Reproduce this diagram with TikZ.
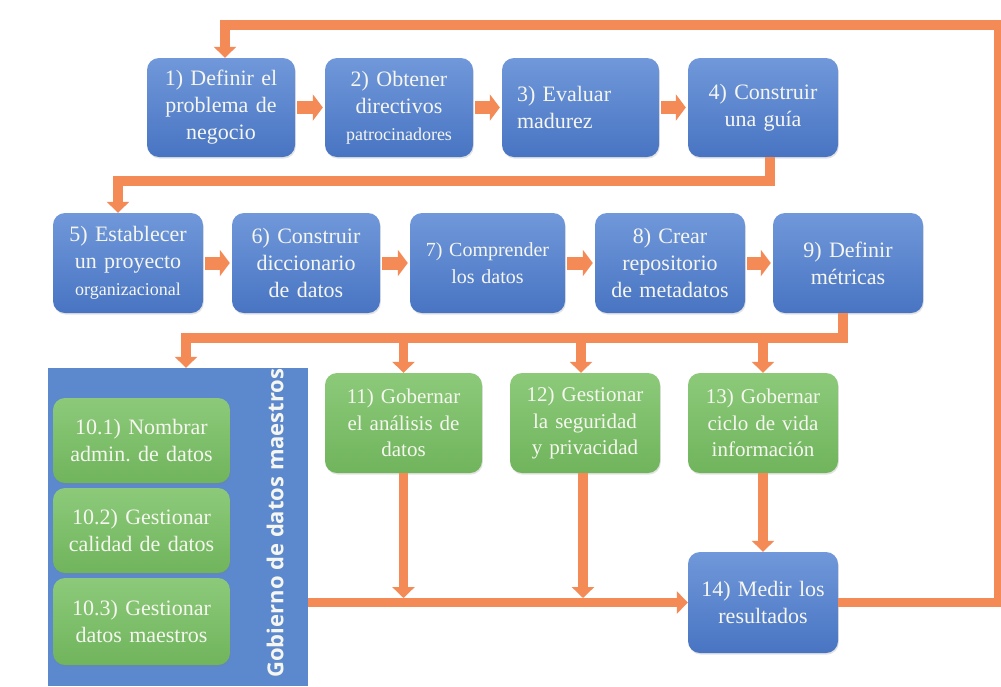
\documentclass[tikz,border=0pt]{standalone}
\usepackage{fontspec}
\setmainfont{Liberation Serif}
\newfontfamily\titlesans{Open Sans}
\usetikzlibrary{arrows.meta,shadows,calc}
\frenchspacing

\definecolor{flowor}{RGB}{244,138,86}
\definecolor{blueT}{RGB}{112,152,218}
\definecolor{blueB}{RGB}{72,116,194}
\definecolor{greenT}{RGB}{140,202,122}
\definecolor{greenB}{RGB}{112,180,92}
\definecolor{panelblue}{RGB}{92,136,205}
\definecolor{boxtext}{RGB}{246,246,240}

\tikzset{
  procbox/.style={rounded corners=12pt, inner sep=0pt, align=center,
    text=boxtext, font=\fontsize{22}{27}\selectfont,
    drop shadow={opacity=0.22, shadow xshift=0.8pt, shadow yshift=-1.6pt}},
  bluebox/.style={procbox, top color=blueT, bottom color=blueB},
  greenbox/.style={procbox, top color=greenT, bottom color=greenB},
  flow/.style={draw=flowor, line width=9.5pt, line join=miter,
    -{Triangle[length=11pt,width=22pt]}},
  blockarrow/.style={draw=flowor, line width=13pt,
    -{Triangle[length=10pt,width=26pt]}},
}

\begin{document}
\begin{tikzpicture}[x=1pt,y=-1pt]
\useasboundingbox (0,0) rectangle (1001,686);
\fill[white] (0,0) rectangle (1001,686);

% first row
\node[bluebox, minimum width=148pt, minimum height=99pt, text width=140pt] (b1) at (221,107.5)
  {1) Definir el\\problema de\\negocio};
\node[bluebox, minimum width=148pt, minimum height=99pt, text width=140pt] (b2) at (399,107.5)
  {2) Obtener\\directivos\\{\fontsize{18}{27}\selectfont patrocinadores}};
\node[bluebox, minimum width=157pt, minimum height=99pt, text width=127pt, align=left] (b3) at (580.5,107.5)
  {3) Evaluar\\madurez};
\node[bluebox, minimum width=150pt, minimum height=99pt, text width=142pt] (b4) at (763,107.5)
  {4) Construir\\una guía};

% second row
\node[bluebox, minimum width=150pt, minimum height=100pt, text width=142pt] (b5) at (128,263)
  {5) Establecer\\un proyecto\\{\fontsize{18}{27}\selectfont organizacional}};
\node[bluebox, minimum width=148pt, minimum height=100pt, text width=140pt] (b6) at (306,263)
  {6) Construir\\diccionario\\de datos};
\node[bluebox, minimum width=155pt, minimum height=100pt, text width=147pt,
  font=\fontsize{20}{27}\selectfont] (b7) at (487.5,263)
  {7) Comprender\\los datos};
\node[bluebox, minimum width=150pt, minimum height=100pt, text width=142pt] (b8) at (670,263)
  {8) Crear\\repositorio\\de metadatos};
\node[bluebox, minimum width=150pt, minimum height=100pt, text width=142pt] (b9) at (848,263)
  {9) Definir\\métricas};

% master data governance panel
\node[fill=panelblue, minimum width=260pt, minimum height=318pt, inner sep=0pt] (panel) at (178,527) {};
\node[rotate=90, text=boxtext, inner sep=0pt,
  font=\titlesans\bfseries\fontsize{22}{22}\selectfont] (paneltitle) at (275,523)
  {Gobierno de datos maestros};
\node[greenbox, minimum width=177pt, minimum height=85pt, text width=170pt] (g1) at (141.5,440.5)
  {10.1) Nombrar\\admin. de datos};
\node[greenbox, minimum width=177pt, minimum height=85pt, text width=170pt] (g2) at (141.5,530.5)
  {10.2) Gestionar\\calidad de datos};
\node[greenbox, minimum width=177pt, minimum height=87pt, text width=170pt] (g3) at (141.5,621.5)
  {10.3) Gestionar\\datos maestros};

% governance steps
\node[greenbox, minimum width=157pt, minimum height=100pt, text width=150pt,
  font=\fontsize{21}{26.5}\selectfont] (b11) at (403.5,423)
  {11) Gobernar\\el análisis de\\datos};
\node[greenbox, minimum width=150pt, minimum height=100pt, text width=144pt,
  font=\fontsize{21}{26.5}\selectfont] (b12) at (585,423)
  {12) Gestionar\\la seguridad\\y privacidad};
\node[greenbox, minimum width=150pt, minimum height=100pt, text width=144pt,
  font=\fontsize{21}{26.5}\selectfont] (b13) at (763,423)
  {13) Gobernar\\ciclo de vida\\información};
\node[bluebox, minimum width=150pt, minimum height=101pt, text width=142pt] (b14) at (763,602.5)
  {14) Medir los\\resultados};

% arrows inside the rows
\draw[blockarrow] ([xshift=2pt]b1.east) -- ([xshift=-2pt]b2.west);
\draw[blockarrow] ([xshift=2pt]b2.east) -- ([xshift=-2pt]b3.west);
\draw[blockarrow] ([xshift=2pt]b3.east) -- ([xshift=-2pt]b4.west);
\draw[blockarrow] ([xshift=2pt]b5.east) -- ([xshift=-2pt]b6.west);
\draw[blockarrow] ([xshift=2pt]b6.east) -- ([xshift=-2pt]b7.west);
\draw[blockarrow] ([xshift=2pt]b7.east) -- ([xshift=-2pt]b8.west);
\draw[blockarrow] ([xshift=2pt]b8.east) -- ([xshift=-2pt]b9.west);

% row to row
\draw[flow] ([xshift=7pt]b4.south) -- ++(0,24) -| ([xshift=-10pt]b5.north);

\coordinate (r2) at (0,338);
\draw[flow] ([xshift=-5pt]b9.south) -- ([xshift=-5pt]b9.south |- r2) -| ([xshift=8pt]panel.north);
\draw[flow] (b11.north |- r2) -- (b11.north);
\draw[flow] ([xshift=-4pt]b12.north |- r2) -- ([xshift=-4pt]b12.north);
\draw[flow] (b13.north |- r2) -- (b13.north);

% towards the results
\coordinate (r3) at (0,603);
\draw[flow] (b11.south) -- ([yshift=5pt]b11.south |- r3);
\draw[flow] ([xshift=-2pt]b12.south) -- ([xshift=-2pt,yshift=5pt]b12.south |- r3);
\draw[flow] (panel.east |- b14.west) -- (b14.west);
\draw[flow] (b13.south) -- (b14.north);

% feedback loop
\coordinate (loopc) at (999,25);
\draw[flow] (b14.east) -- (b14.east -| loopc) -- (loopc) -| ([xshift=4pt]b1.north);
\end{tikzpicture}
\end{document}
